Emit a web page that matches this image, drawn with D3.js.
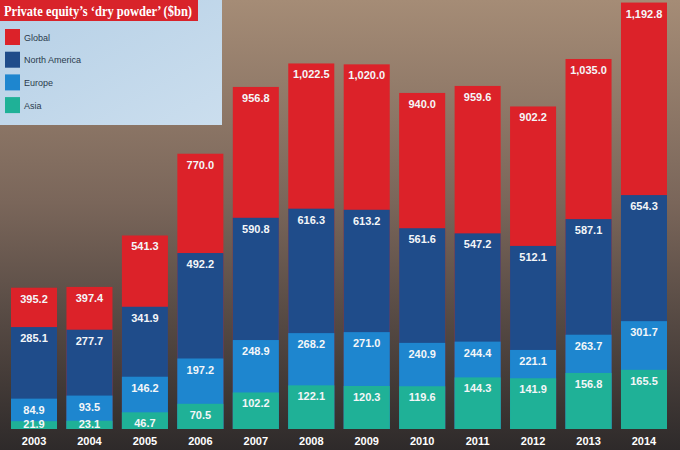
<!DOCTYPE html>
<html>
<head>
<meta charset="utf-8">
<script src="https://cdn.jsdelivr.net/npm/d3@7"></script>
<style>
  body { margin: 0; padding: 0; background: #3a3433; }
  svg { display: block; }
</style>
</head>
<body>
<div id="chart"></div>
<script>
// data ($bn)
var years = ["2003", "2004", "2005", "2006", "2007", "2008", "2009", "2010", "2011", "2012", "2013", "2014"];
var globalVals = [395.2, 397.4, 541.3, 770.0, 956.8, 1022.5, 1020.0, 940.0, 959.6, 902.2, 1035.0, 1192.8];
var northAmerica = [285.1, 277.7, 341.9, 492.2, 590.8, 616.3, 613.2, 561.6, 547.2, 512.1, 587.1, 654.3];
var europe = [84.9, 93.5, 146.2, 197.2, 248.9, 268.2, 271.0, 240.9, 244.4, 221.1, 263.7, 301.7];
var asia = [21.9, 23.1, 46.7, 70.5, 102.2, 122.1, 120.3, 119.6, 144.3, 141.9, 156.8, 165.5];
var seriesNames = ["Global", "North America", "Europe", "Asia"];
var seriesColors = ["#dc2229", "#1f4c8a", "#1e86cf", "#1fb197"];

var width = 680, height = 450;

var svg = d3.select("#chart")
    .append("svg")
    .attr("width", width)
    .attr("height", height);

// background standing in for the city photo
var defs = svg.append("defs");
var bg = defs.append("linearGradient")
    .attr("id", "bg").attr("x1", 0).attr("y1", 0).attr("x2", 0).attr("y2", 1);
bg.append("stop").attr("offset", "0%").attr("stop-color", "#a58c76");
bg.append("stop").attr("offset", "45%").attr("stop-color", "#7a665a");
bg.append("stop").attr("offset", "100%").attr("stop-color", "#2e2a2a");
var sky = defs.append("linearGradient")
    .attr("id", "sky").attr("x1", 0).attr("y1", 0).attr("x2", 1).attr("y2", 1);
sky.append("stop").attr("offset", "0%").attr("stop-color", "#b6d0e6");
sky.append("stop").attr("offset", "100%").attr("stop-color", "#cbdeee");

svg.append("rect")
    .attr("width", width).attr("height", height)
    .attr("fill", "url(#bg)");

// legend panel
svg.append("rect")
    .attr("x", 0).attr("y", 0)
    .attr("width", 222).attr("height", 125)
    .attr("fill", "url(#sky)");

svg.append("rect")
    .attr("x", 0).attr("y", 0)
    .attr("width", 198).attr("height", 21)
    .attr("fill", "#d8232a");

svg.append("text")
    .attr("x", 4).attr("y", 15.5)
    .attr("textLength", 188)
    .attr("lengthAdjust", "spacingAndGlyphs")
    .attr("fill", "#fff")
    .attr("font-family", "'Liberation Serif', 'DejaVu Serif', serif")
    .attr("font-weight", "bold")
    .attr("font-size", 15)
    .text("Private equity\u2019s \u2018dry powder\u2019 ($bn)");

var legend = svg.append("g").selectAll("g")
    .data(seriesNames)
    .enter().append("g")
    .attr("transform", function(d, i) { return "translate(5," + (29 + i * 22.7) + ")"; });
legend.append("rect")
    .attr("width", 15).attr("height", 16)
    .attr("fill", function(d, i) { return seriesColors[i]; });
legend.append("text")
    .attr("x", 19).attr("y", 11.5)
    .attr("fill", "#2a3a4c")
    .attr("font-family", "'Liberation Sans', Arial, sans-serif")
    .attr("font-size", 9)
    .text(function(d) { return d; });

// scales
var x = d3.scaleBand()
    .domain(years)
    .range([11, 667])
    .paddingInner(0.17)
    .paddingOuter(0);

var y = d3.scaleLinear()
    .domain([0, 1200])
    .range([429, 0]);

var fmt = d3.format(",.1f");
var allSeries = [globalVals, northAmerica, europe, asia];

// overlapping bars, biggest drawn first
allSeries.forEach(function(vals, s) {
    var data = years.map(function(yr, i) { return { year: yr, value: vals[i] }; });
    var g = svg.append("g");
    g.selectAll("rect")
        .data(data)
        .enter().append("rect")
        .attr("x", function(d) { return x(d.year); })
        .attr("y", function(d) { return y(d.value); })
        .attr("width", x.bandwidth())
        .attr("height", function(d) { return y(0) - y(d.value); })
        .attr("fill", seriesColors[s]);
    g.selectAll("text")
        .data(data)
        .enter().append("text")
        .attr("x", function(d) { return x(d.year) + x.bandwidth() / 2; })
        .attr("y", function(d) { return Math.min(y(d.value) + 15, y(0) - 1.5); })
        .attr("text-anchor", "middle")
        .attr("fill", "#f4f6f8")
        .attr("font-family", "'Liberation Sans', Arial, sans-serif")
        .attr("font-weight", "bold")
        .attr("font-size", 11)
        .text(function(d) { return fmt(d.value); });
});

// year axis
var xAxis = svg.append("g")
    .attr("transform", "translate(0," + y(0) + ")")
    .call(d3.axisBottom(x).tickSize(0).tickPadding(8));
xAxis.select(".domain").remove();
xAxis.selectAll("text")
    .attr("fill", "#fff")
    .attr("font-family", "'Liberation Sans', Arial, sans-serif")
    .attr("font-weight", "bold")
    .attr("font-size", 11);
</script>
</body>
</html>
